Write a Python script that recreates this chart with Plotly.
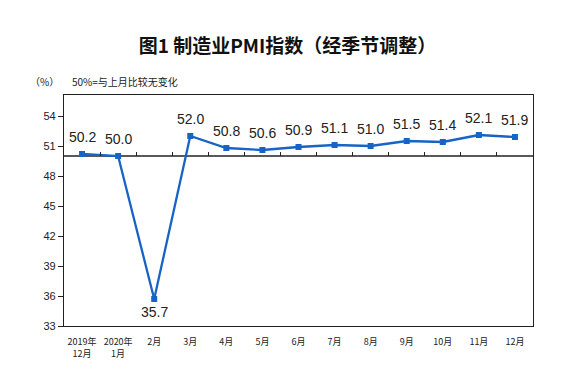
import plotly.graph_objects as go

categories = ["2019年<br>12月", "2020年<br>1月", "2月", "3月", "4月", "5月", "6月",
              "7月", "8月", "9月", "10月", "11月", "12月"]
pmi = [50.2, 50.0, 35.7, 52.0, 50.8, 50.6, 50.9, 51.1, 51.0, 51.5, 51.4, 52.1, 51.9]
y_ticks = [33, 36, 39, 42, 45, 48, 51, 54]
y_min, y_max = 33, 56.1
baseline = 50

# page body has an 8px default margin; size the figure to compensate
W, H, OFF = 575, 378, 8
x = list(range(len(categories)))
line_color = "#1763C6"

fig = go.Figure()
fig.add_trace(go.Scatter(
    x=x, y=pmi, mode="lines+markers",
    line=dict(color=line_color, width=2.3),
    marker=dict(symbol="square", size=6, color=line_color),
    cliponaxis=False, showlegend=False, hoverinfo="skip",
))
# invisible trace on the baseline axis so xaxis2 is drawn
fig.add_trace(go.Scatter(x=[x[0]], y=[baseline], xaxis="x2", mode="markers",
                         marker=dict(opacity=0), showlegend=False, hoverinfo="skip"))

fig.add_hline(y=baseline, line=dict(color="#222222", width=1.3), layer="below")

label_anns = [
    dict(x=xi, y=v, xref="x", yref="y", text=f"{v:.1f}", showarrow=False,
         xanchor="center", yanchor="middle", yshift=(-13 if v < baseline else 17),
         font=dict(family="Liberation Sans, Arial", size=14, color="#222222"))
    for xi, v in zip(x, pmi)
]

fig.update_layout(
    width=W - OFF, height=H - OFF,
    margin=dict(l=64 - OFF, r=42, t=95 - OFF, b=52, autoexpand=False),
    paper_bgcolor="white", plot_bgcolor="white",
    title=dict(text="<b>图1 制造业PMI指数（经季节调整）</b>", x=0.5 - OFF / 2 / (W - OFF),
               xanchor="center", y=1 - (46 - OFF) / (H - OFF), yanchor="middle",
               font=dict(family="Noto Sans CJK SC", size=19, color="#111111")),
    xaxis=dict(range=[-0.5, len(categories) - 0.5], tickmode="array", tickvals=x,
               ticktext=categories, tickangle=0, automargin=False,
               showline=True, linecolor="#222222", linewidth=1.3,
               mirror=True, ticks="outside", ticklen=7, tickcolor="rgba(0,0,0,0)",
               showgrid=False, zeroline=False,
               tickfont=dict(family="Noto Sans CJK SC", size=9, color="#222222")),
    xaxis2=dict(range=[-0.5, len(categories) - 0.5], overlaying="x", anchor="free",
                position=(baseline - y_min) / (y_max - y_min), side="bottom",
                tickmode="array", tickvals=[i + 0.5 for i in x[:-1]], ticks="inside",
                ticklen=4, tickcolor="#222222", showticklabels=False, showline=False,
                showgrid=False, zeroline=False, automargin=False),
    yaxis=dict(range=[y_min, y_max], tickmode="array", tickvals=y_ticks,
               showline=True, linecolor="#222222", linewidth=1.3, mirror=True,
               ticks="outside", ticklen=5, tickcolor="#222222", showgrid=False,
               zeroline=False, automargin=False,
               tickfont=dict(family="Liberation Sans, Arial", size=11, color="#222222")),
    annotations=label_anns + [
        dict(text="（%）", xref="paper", yref="paper", x=-20 / 469, y=1 + 14 / 231,
             xanchor="center", yanchor="middle", showarrow=False,
             font=dict(family="Noto Sans CJK SC", size=10, color="#222222")),
        dict(text="50%=与上月比较无变化", xref="paper", yref="paper", x=6 / 469,
             y=1 + 14 / 231, xanchor="left", yanchor="middle", showarrow=False,
             font=dict(family="Noto Sans CJK SC", size=10, color="#222222")),
    ],
)

fig.write_html("out.html")
